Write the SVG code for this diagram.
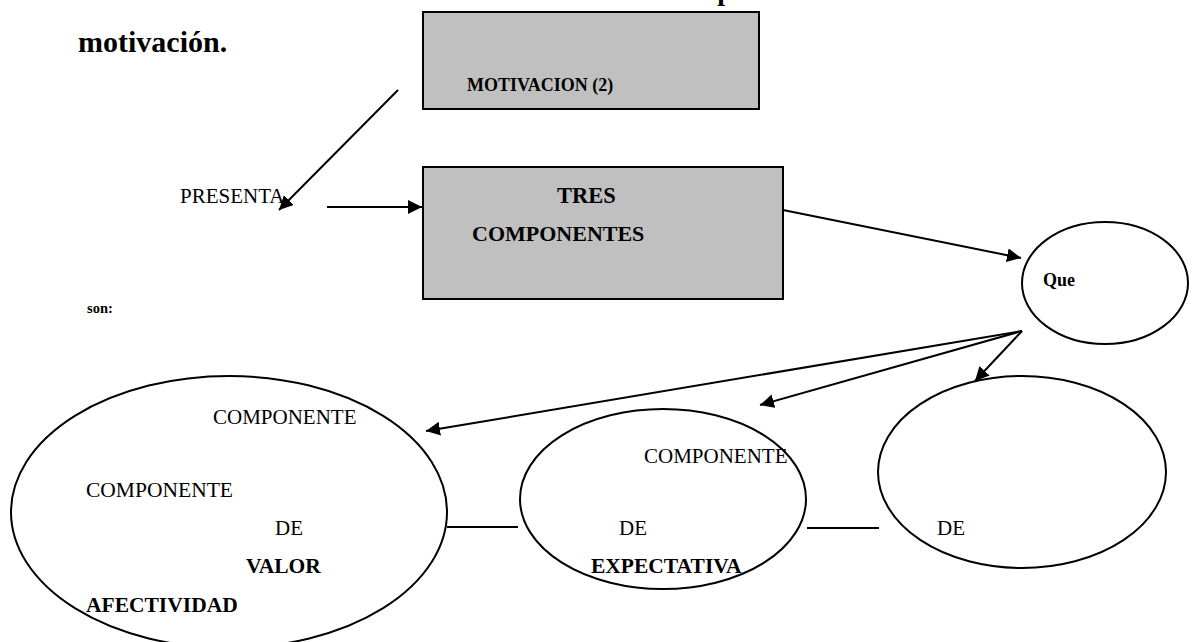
<svg xmlns="http://www.w3.org/2000/svg" width="1192" height="642" viewBox="0 0 1192 642">
<defs>
<style>
.t{font-family:"Liberation Serif","Times New Roman",serif;fill:#000}
.b{font-weight:bold}
.box{fill:#c0c0c0;stroke:#000;stroke-width:2}
.ell{fill:#fff;stroke:#000;stroke-width:2}
.ln{stroke:#000;stroke-width:2;fill:none}
</style>
<marker id="ah" viewBox="0 0 10 10" refX="10" refY="5" markerWidth="7" markerHeight="7" markerUnits="strokeWidth" orient="auto">
<path d="M0,0 L10,5 L0,10 z" fill="#000"/>
</marker>
</defs>
<rect width="1192" height="642" fill="#fff"/>
<g id="title">
<text class="t b" x="248" y="0" font-size="28" textLength="792" lengthAdjust="spacing">Gráfico N° 1 Interacción de los componentes esenciales de la</text>
<text class="t b" x="78" y="52" font-size="30">motivación.</text>
</g>
<g id="connectors">
<line class="ln" x1="398" y1="90" x2="279" y2="210" marker-end="url(#ah)"/>
<line class="ln" x1="327" y1="207" x2="422" y2="207" marker-end="url(#ah)"/>
<line class="ln" x1="783" y1="210" x2="1021" y2="258" marker-end="url(#ah)"/>
<line class="ln" x1="1022" y1="331" x2="426" y2="431" marker-end="url(#ah)"/>
<line class="ln" x1="1022" y1="331" x2="760" y2="405" marker-end="url(#ah)"/>
<line class="ln" x1="1022" y1="331" x2="975" y2="381" marker-end="url(#ah)"/>
<line class="ln" x1="447" y1="527" x2="518" y2="527"/>
<line class="ln" x1="807" y1="528" x2="879" y2="528"/>
</g>
<g id="motivacion">
<rect class="box" x="423" y="12" width="336" height="97"/>
<text class="t b" x="467" y="91" font-size="18">MOTIVACION (2)</text>
</g>
<g id="presenta">
<text class="t" x="180" y="203" font-size="21">PRESENTA</text>
</g>
<g id="tres">
<rect class="box" x="423" y="167" width="360" height="132"/>
<text class="t b" x="557" y="203" font-size="22.5">TRES</text>
<text class="t b" x="472" y="241" font-size="22">COMPONENTES</text>
</g>
<g id="que">
<ellipse class="ell" cx="1105" cy="283" rx="83" ry="61"/>
<text class="t b" x="1043" y="286" font-size="18">Que</text>
</g>
<g id="son">
<text class="t b" x="87" y="313" font-size="14.5">son:</text>
</g>
<g id="valor">
<ellipse class="ell" cx="229" cy="512" rx="218" ry="136"/>
<text class="t" x="213" y="424" font-size="21">COMPONENTE</text>
<text class="t" x="86" y="497" font-size="21.5">COMPONENTE</text>
<text class="t" x="275" y="535" font-size="21">DE</text>
<text class="t b" x="246" y="573" font-size="21.5">VALOR</text>
<text class="t b" x="86" y="612" font-size="21.5">AFECTIVIDAD</text>
</g>
<g id="expectativa">
<ellipse class="ell" cx="663" cy="499" rx="143" ry="90"/>
<text class="t" x="644" y="463" font-size="21">COMPONENTE</text>
<text class="t" x="619" y="535" font-size="21">DE</text>
<text class="t b" x="591" y="573" font-size="21.5">EXPECTATIVA</text>
</g>
<g id="tercero">
<ellipse class="ell" cx="1022" cy="472" rx="144" ry="96"/>
<text class="t" x="937" y="535" font-size="21">DE</text>
</g>
</svg>
